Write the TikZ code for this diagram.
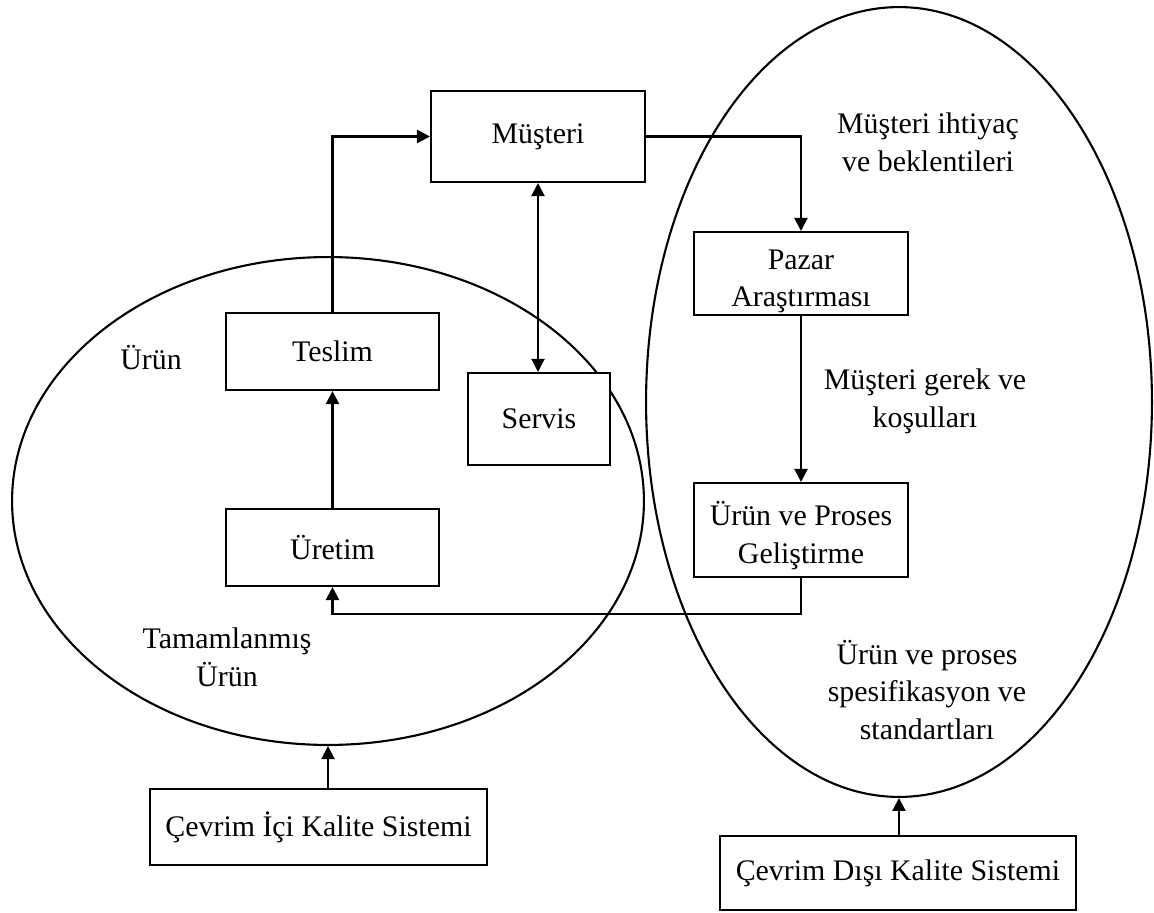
\documentclass[tikz,border=0pt]{standalone}
\usepackage{fontspec}
\setmainfont{Liberation Serif}
\usetikzlibrary{shapes.geometric,arrows.meta,calc}
\begin{document}
\begin{tikzpicture}[x=0.02cm,y=-0.02cm,line width=1.2pt,
  every node/.style={font=\fontsize{17}{21.5}\selectfont},
  block/.style={draw,fill=white,align=center,inner sep=0pt},
  zone/.style={draw,ellipse,inner sep=0pt},
  lbl/.style={align=center,inner sep=0pt},
  tip/.tip={Triangle[length=0.26cm,width=0.26cm]},
  flow/.style={-tip},
  both/.style={tip-tip}]
\useasboundingbox (0,0) rectangle (1154,913);

% quality zones
\node[zone,minimum width=12.64cm,minimum height=9.76cm] (li) at (328,501) {};
\node[zone,minimum width=10.12cm,minimum height=15.8cm] (ri) at (899,402) {};

% process boxes
\node[block,minimum width=4.28cm,minimum height=1.82cm] (must) at (538,136.5) {Müşteri};
\node[block,minimum width=4.26cm,minimum height=1.54cm] (teslim) at (332.5,351.5) {Teslim};
\node[block,minimum width=2.84cm,minimum height=1.84cm] (servis) at (539,419) {Servis};
\node[block,minimum width=4.26cm,minimum height=1.54cm] (uretim) at (332.5,547.5) {Üretim};
\node[block,minimum width=4.28cm,minimum height=1.66cm] (pazar) at (801,273.5) {\rule{0pt}{20pt}Pazar\\Araştırması};
\node[block,minimum width=4.28cm,minimum height=1.88cm] (gelis) at (801,530) {\rule{0pt}{20pt}Ürün ve Proses\\Geliştirme};
\node[block,minimum width=6.74cm,minimum height=1.52cm] (cic) at (318.5,827) {Çevrim İçi Kalite Sistemi};
\node[block,minimum width=7.12cm,minimum height=1.48cm] (cdk) at (898,873) {Çevrim Dışı Kalite Sistemi};

% free labels
\node[lbl] (l1) at (928,142) {Müşteri ihtiyaç\\ve beklentileri};
\node[lbl] (l2) at (925,401) {Müşteri gerek ve\\koşulları};
\node[lbl] (l3) at (927,690) {Ürün ve proses\\spesifikasyon ve\\standartları};
\node[lbl] (l4) at (151,358) {Ürün};
\node[lbl] (l5) at (227,657) {Tamamlanmış\\Ürün};

% connectors
\draw[flow] (teslim.north) |- (must.west);
\draw[flow] (must.east) -| (pazar.north);
\draw[both] (must.south) -- (must.south |- servis.north);
\draw[flow] (uretim.north) -- (teslim.south);
\draw[flow] (pazar.south) -- (gelis.north);
\draw[flow] (gelis.south) |- ($(uretim.south)+(0,27)$) -- (uretim.south);
\draw[flow] (cic.north -| li.south) -- (li.south);
\draw[flow] (cdk.north -| ri.south) -- (ri.south);
\end{tikzpicture}
\end{document}
